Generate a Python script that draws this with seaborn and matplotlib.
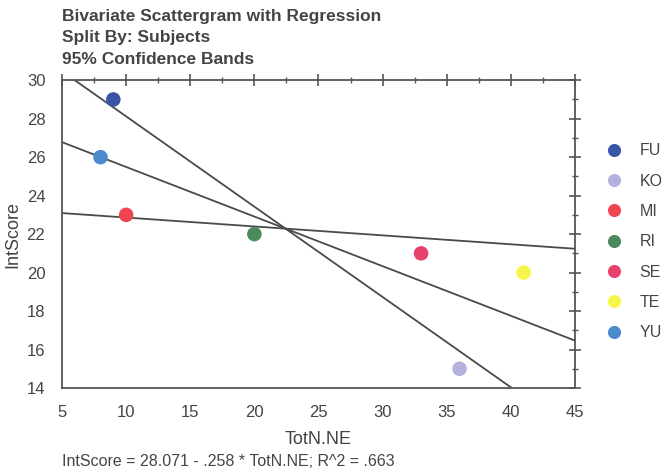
import numpy as np
import pandas as pd
import matplotlib
matplotlib.use('Agg')
import matplotlib.pyplot as plt
import seaborn as sns
from matplotlib.ticker import MultipleLocator

# data
subjects = ["FU", "KO", "MI", "RI", "SE", "TE", "YU"]
totn_ne = [9, 36, 10, 20, 33, 41, 8]
int_score = [29, 15, 23, 22, 21, 20, 26]
colors = ["#3b55a6", "#b4b2dc", "#ef4452", "#4b8a5c", "#e8426c", "#f6f54a", "#4c8ad0"]
t_crit = 2.571  # t(0.975, df=5)

df = pd.DataFrame({"Subjects": subjects, "TotN.NE": totn_ne, "IntScore": int_score})

sns.set_style("white")
plt.rcParams['font.family'] = ['Liberation Sans', 'DejaVu Sans']
txt = "#444444"

fig = plt.figure(figsize=(6.67, 4.72), dpi=100)
ax = fig.add_axes([0.093, 0.178, 0.769, 0.652])

# regression + slope confidence lines through the means
x = np.array(totn_ne, float)
y = np.array(int_score, float)
slope, icpt = np.polyfit(x, y, 1)
resid = y - (icpt + slope * x)
s2 = (resid ** 2).sum() / (len(x) - 2)
se_b = np.sqrt(s2 / ((x - x.mean()) ** 2).sum())
r2 = 1 - (resid ** 2).sum() / ((y - y.mean()) ** 2).sum()
xs = np.linspace(5, 45, 50)
for b in [slope - t_crit * se_b, slope, slope + t_crit * se_b]:
    ax.plot(xs, y.mean() + b * (xs - x.mean()), color="#4a4a4a", lw=1.3, zorder=2)

sns.scatterplot(data=df, x="TotN.NE", y="IntScore", hue="Subjects",
                palette=colors, s=110, edgecolor="none", ax=ax, zorder=3)

ax.set_xlim(5, 45)
ax.set_ylim(14, 30)
ax.xaxis.set_major_locator(MultipleLocator(5))
ax.xaxis.set_minor_locator(MultipleLocator(2.5))
ax.yaxis.set_major_locator(MultipleLocator(2))
ax.yaxis.set_minor_locator(MultipleLocator(1))
ax.tick_params(which="both", direction="inout", top=True, right=True,
               color="#555555", labelsize=12, labelcolor=txt)
ax.tick_params(which="major", length=8, width=1.2, pad=8)
ax.tick_params(which="minor", length=5, width=1)
for sp in ax.spines.values():
    sp.set_color("#555555")
    sp.set_linewidth(1.3)

ax.set_xlabel("TotN.NE", fontsize=13, color=txt, labelpad=8)
ax.set_ylabel("IntScore", fontsize=13, color=txt, labelpad=4)

leg = ax.legend(loc="upper left", bbox_to_anchor=(1.045, 0.795), frameon=False,
                fontsize=11.5, labelspacing=0.96, handletextpad=0.6,
                borderaxespad=0, borderpad=0, markerscale=0.9)
for t in leg.get_texts():
    t.set_color(txt)

fig.text(0.093, 0.955, "Bivariate Scattergram with Regression", fontsize=12.5,
         fontweight="bold", color=txt)
fig.text(0.093, 0.910, "Split By: Subjects", fontsize=12.5, fontweight="bold", color=txt)
fig.text(0.093, 0.865, "95% Confidence Bands", fontsize=12.5, fontweight="bold", color=txt)
fig.text(0.093, 0.012, "IntScore = %.3f - %s * TotN.NE; R^2 = %s"
         % (icpt, ("%.3f" % -slope).lstrip("0"), ("%.3f" % r2).lstrip("0")),
         fontsize=11.5, color=txt)

fig.savefig("out.png", dpi=100)
